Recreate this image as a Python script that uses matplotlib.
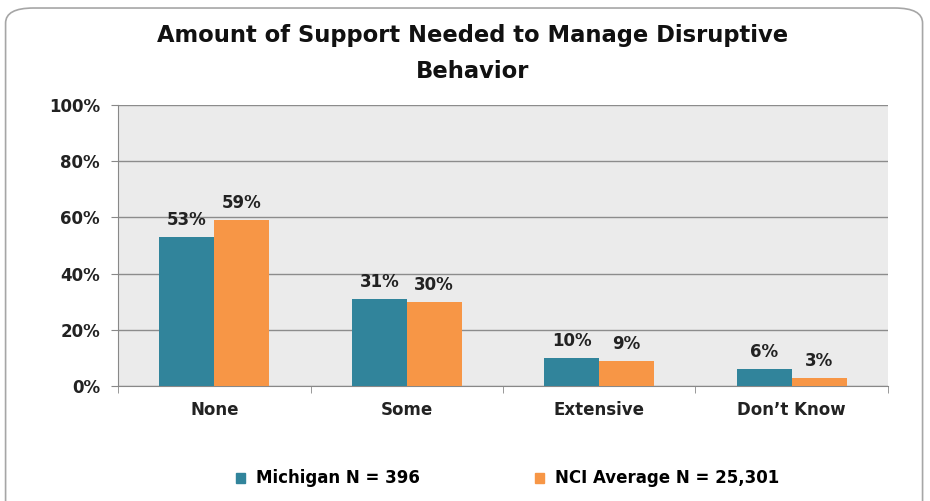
'''bar chart: support needed to manage disruptive behavior
'''
import numpy as np
import matplotlib.pyplot as plt
from matplotlib.patches import FancyBboxPatch, Patch

categories = ["None", "Some", "Extensive", "Don\u2019t Know"]
michigan = [53, 31, 10, 6]
nci_avg = [59, 30, 9, 3]
series_names = ["Michigan N = 396", "NCI Average N = 25,301"]

TEAL = "#31849B"
ORANGE = "#F79646"
TXT = '#222222'

plt.rcParams['font.family'] = ['DejaVu Sans']

fig = plt.figure(figsize=(9.3, 5.01), dpi=100)
fig.patch.set_facecolor('white')

# rounded chart border
border = FancyBboxPatch((0.006, -0.05), 0.986, 1.034,
                        boxstyle="round,pad=0,rounding_size=0.03",
                        transform=fig.transFigure, fill=False,
                        edgecolor='#A6A6A6', linewidth=1.2)
fig.patches.append(border)

ax = fig.add_axes([0.1269, 0.2295, 0.8279, 0.5609])
ax.set_facecolor('#EBEBEB')

x = np.arange(len(categories))
w = 0.285
b1 = ax.bar(x - w / 2, michigan, w, color=TEAL, zorder=3)
b2 = ax.bar(x + w / 2, nci_avg, w, color=ORANGE, zorder=3)

for bars in (b1, b2):
    for r in bars:
        ax.text(r.get_x() + r.get_width() / 2, r.get_height() + 2.8,
                f"{r.get_height():.0f}%", ha='center', va='bottom',
                fontsize=12, fontweight='bold', color=TXT)

ax.set_xlim(-0.5, len(categories) - 0.5)
ax.set_ylim(0, 100)
ax.set_yticks(range(0, 101, 20))
ax.set_yticklabels([f"{v}%" for v in range(0, 101, 20)],
                   fontsize=12, fontweight='bold', color=TXT)
ax.set_xticks(x)
ax.set_xticklabels(categories, fontsize=12, fontweight='bold', color=TXT)
ax.set_xticks(np.arange(-0.5, len(categories)), minor=True)
ax.tick_params(axis='x', which='major', length=0, pad=11)
ax.tick_params(axis='x', which='minor', length=5, color='#888888')
ax.tick_params(axis='y', length=5, color='#888888', pad=8)

ax.yaxis.grid(True, color='#8C8C8C', linewidth=1, zorder=0)
for s in ('top', 'right'):
    ax.spines[s].set_visible(False)
for s in ('left', 'bottom'):
    ax.spines[s].set_color('#888888')

fig.text(0.508, 0.893, "Amount of Support Needed to Manage Disruptive\nBehavior",
         ha='center', va='center', fontsize=16.3, fontweight='bold',
         color='#111111', linespacing=1.7)

handles = [Patch(color=TEAL), Patch(color=ORANGE)]
fig.legend(handles, series_names, loc='center', bbox_to_anchor=(0.546, 0.045),
           ncol=2, frameon=False, handlelength=0.55,
           handleheight=0.55, handletextpad=0.65, columnspacing=6.9,
           prop={'weight': 'bold', 'size': 12})

plt.savefig("out.png", dpi=100)
